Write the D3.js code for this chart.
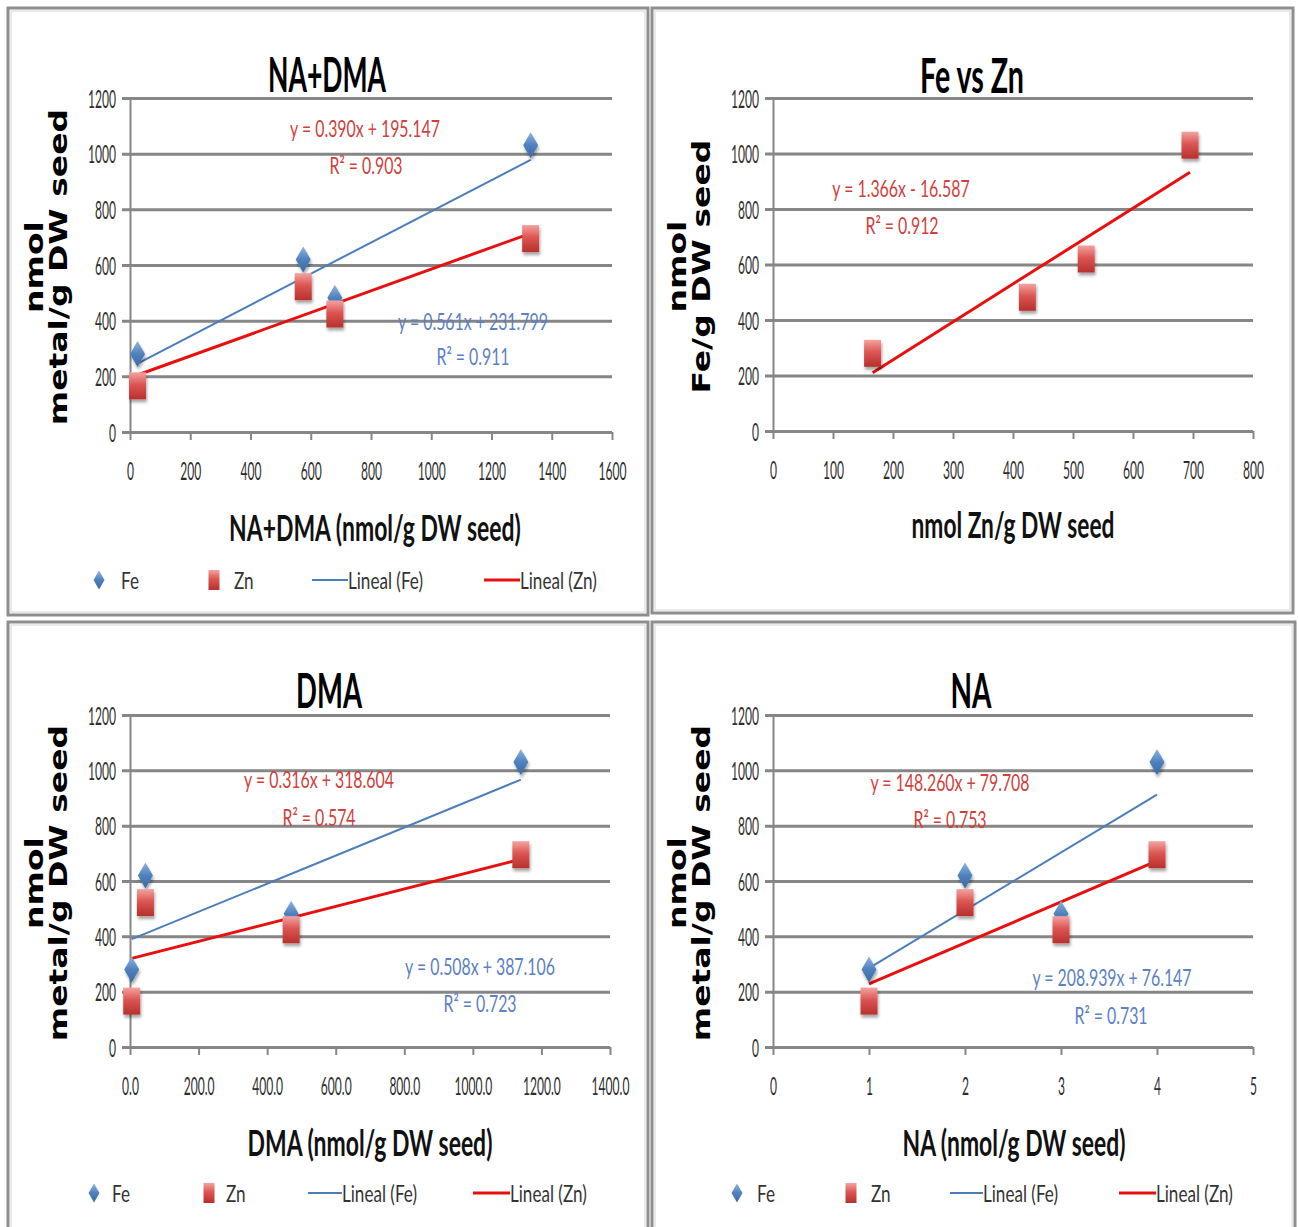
<!DOCTYPE html>
<html><head><meta charset="utf-8">
<script src="https://cdn.jsdelivr.net/npm/d3@7"></script>
<style>html,body{margin:0;padding:0;background:#fff;} svg{display:block}</style>
</head><body>
<svg id="chart" width="1299" height="1227"></svg>
<script>
// ---------------- data ----------------
const feValues = [280, 620, 482, 1030];     // nmol Fe/g DW seed
const znValues = [166, 522, 424, 695];      // nmol Zn/g DW seed
const naDmaValues = [25, 575, 680, 1330];   // NA+DMA
const dmaValues = [5, 45, 470, 1140];       // DMA
const naValues = [1, 2, 3, 4];              // NA

const yTicks = [0, 200, 400, 600, 800, 1000, 1200];
const naDmaTicks = [0, 200, 400, 600, 800, 1000, 1200, 1400, 1600];
const znTicks = [0, 100, 200, 300, 400, 500, 600, 700, 800];
const dmaTicks = [0, 200, 400, 600, 800, 1000, 1200, 1400];
const naTicks = [0, 1, 2, 3, 4, 5];

// trendlines: [slope, intercept], R²
const naDmaFeFit = [0.561, 231.799], naDmaFeR2 = 0.911;
const naDmaZnFit = [0.390, 195.147], naDmaZnR2 = 0.903;
const feZnFit = [1.366, -16.587], feZnR2 = 0.912;
const dmaFeFit = [0.508, 387.106], dmaFeR2 = 0.723;
const dmaZnFit = [0.316, 318.604], dmaZnR2 = 0.574;
const naFeFit = [208.939, 76.147], naFeR2 = 0.731;
const naZnFit = [148.260, 79.708], naZnR2 = 0.753;

const titles = ["NA+DMA", "Fe vs Zn", "DMA", "NA"];
const xTitles = ["NA+DMA (nmol/g DW seed)", "nmol Zn/g DW seed", "DMA (nmol/g DW seed)", "NA (nmol/g DW seed)"];
const yTitlesMetal = ["nmol", "metal/g DW seed"];
const yTitlesFe = ["nmol", "Fe/g DW seed"];
const legendLabels = ["Fe", "Zn", "Lineal (Fe)", "Lineal (Zn)"];

// ---------------- style ----------------
const FONT = "Lato, 'Open Sans', sans-serif";
const YFONT = "'DejaVu Sans', Verdana, sans-serif";
const GRID = "#868686";
const BLUE = "#4a7ebb", RED = "#e8100e";
const EQ_RED = "#d0403c", EQ_BLUE = "#5b80c4";

const svg = d3.select("#chart");
const defs = svg.append("defs");
const f = defs.append("filter").attr("id", "shadow").attr("x", "-60%").attr("y", "-60%").attr("width", "220%").attr("height", "220%");
f.append("feGaussianBlur").attr("in", "SourceAlpha").attr("stdDeviation", 1.8);
f.append("feOffset").attr("dx", 1).attr("dy", 3).attr("result", "ob");
f.append("feComponentTransfer").append("feFuncA").attr("type", "linear").attr("slope", 0.35);
const fm = f.append("feMerge"); fm.append("feMergeNode"); fm.append("feMergeNode").attr("in", "SourceGraphic");

const gFe = defs.append("linearGradient").attr("id", "gFe").attr("x1", 0).attr("y1", 0).attr("x2", 0).attr("y2", 1);
gFe.append("stop").attr("offset", "0%").attr("stop-color", "#8fb4e3");
gFe.append("stop").attr("offset", "50%").attr("stop-color", "#4f81bd");
gFe.append("stop").attr("offset", "100%").attr("stop-color", "#3a6aa5");
const gZn = defs.append("linearGradient").attr("id", "gZn").attr("x1", 0).attr("y1", 0).attr("x2", 0).attr("y2", 1);
gZn.append("stop").attr("offset", "0%").attr("stop-color", "#f3a3a1");
gZn.append("stop").attr("offset", "45%").attr("stop-color", "#dc5653");
gZn.append("stop").attr("offset", "100%").attr("stop-color", "#b8302d");

svg.append("rect").attr("width", 1299).attr("height", 1227).attr("fill", "#fff");

function measure(str, size, weight, family) {
  const t = svg.append("text").text(str).attr("font-family", family || FONT)
    .attr("font-size", size).attr("font-weight", weight || "normal");
  const w = t.node().getComputedTextLength(); t.remove(); return w;
}
const SX_TICK = 28 / measure("1200", 25);
const SX_EQ = 150 / measure("y = 0.390x + 195.147", 24);
const SX_LEG = 75 / measure("Lineal (Fe)", 24);

function label(parent, str, x, y, o) {
  const t = parent.append("text").text(str)
    .attr("font-family", o.family || FONT).attr("font-size", o.size)
    .attr("font-weight", o.weight || "normal").attr("fill", o.fill || "#1a1a1a")
    .attr("text-anchor", o.anchor || "middle");
  let sx = o.sx || 1;
  if (o.width) sx = o.width / t.node().getComputedTextLength();
  t.attr("transform", `translate(${x},${y}) scale(${sx},1)`);
  return t;
}
function eqText(fit, r2) {
  const b = fit[1];
  return [`y = ${fit[0].toFixed(3)}x ${b < 0 ? "-" : "+"} ${Math.abs(b).toFixed(3)}`, `R² = ${r2.toFixed(3)}`];
}
const diamond = (w, h) => `M0,${-h/2}L${w/2},0L0,${h/2}L${-w/2},0Z`;

function drawPanel(c) {
  const g = svg.append("g");
  g.append("rect").attr("x", c.frame[0]).attr("y", c.frame[1]).attr("width", c.frame[2]).attr("height", c.frame[3])
    .attr("fill", "none").attr("stroke", "#8e8e8e").attr("stroke-width", 3);
  g.append("rect").attr("x", c.frame[0] + 3).attr("y", c.frame[1] + 3).attr("width", c.frame[2] - 6).attr("height", c.frame[3] - 6)
    .attr("fill", "none").attr("stroke", "#d6d6d6").attr("stroke-width", 1);

  const x = d3.scaleLinear().domain(c.xDomain).range([c.left, c.right]);
  const y = d3.scaleLinear().domain([0, 1200]).range([c.bottom, c.top]);

  const gy = g.append("g").attr("transform", `translate(${c.left},0)`)
    .call(d3.axisLeft(y).tickValues(yTicks).tickSize(-(c.right - c.left)).tickSizeOuter(0).tickFormat(d3.format("d")));
  gy.select(".domain").attr("stroke", GRID).attr("stroke-width", 2);
  gy.selectAll(".tick line").attr("x1", -8).attr("stroke", GRID).attr("stroke-width", 3);
  gy.selectAll(".tick text").attr("x", null).attr("dy", null)
    .attr("font-family", FONT).attr("font-size", 25).attr("fill", "#2e2e2e").attr("text-anchor", "end")
    .attr("transform", `translate(-14,9) scale(${SX_TICK},1)`);

  const gx = g.append("g").attr("transform", `translate(0,${c.bottom})`)
    .call(d3.axisBottom(x).tickValues(c.xTicks).tickSize(8).tickSizeOuter(0).tickFormat(c.xFormat));
  gx.select(".domain").remove();
  gx.selectAll(".tick line").attr("stroke", GRID).attr("stroke-width", 2);
  gx.selectAll(".tick text").attr("y", null).attr("dy", null)
    .attr("font-family", FONT).attr("font-size", 25).attr("fill", "#2e2e2e")
    .attr("transform", `translate(0,48) scale(${SX_TICK},1)`);

  label(g, c.title, c.titlePos[0], c.titlePos[1], {size: 47, weight: "bold", fill: "#000", width: c.titlePos[2]});
  label(g, c.xTitle, c.xTitlePos[0], c.xTitlePos[1], {size: 37, weight: "bold", fill: "#111", width: c.xTitlePos[2]});
  const yc = (c.top + c.bottom) / 2;
  c.yTitle.forEach((s, i) => {
    g.append("text").text(s).attr("font-family", YFONT).attr("font-size", 33).attr("font-weight", "bold")
      .attr("fill", "#000").attr("text-anchor", "middle")
      .attr("transform", `translate(${c.left + (i === 0 ? -87 : -63)},${yc + 2}) rotate(-90) scale(1,0.74)`);
  });

  const line = d3.line().x(d => x(d[0])).y(d => y(d[1]));
  c.series.forEach(s => {
    const ext = d3.extent(s.xs);
    g.append("path").attr("d", line(ext.map(v => [v, s.fit[0] * v + s.fit[1]])))
      .attr("fill", "none").attr("stroke", s.lineColor).attr("stroke-width", s.lineWidth);
  });
  c.series.forEach(s => {
    const pts = s.xs.map((v, i) => [v, s.ys[i]]);
    if (s.kind === "fe") {
      g.selectAll(null).data(pts).join("path").attr("d", diamond(15, 26))
        .attr("transform", d => `translate(${x(d[0])},${y(d[1])})`)
        .attr("fill", "url(#gFe)").attr("filter", "url(#shadow)");
    } else {
      g.selectAll(null).data(pts).join("rect").attr("x", d => x(d[0]) - 8.5).attr("y", d => y(d[1]) - 13.5)
        .attr("width", 17).attr("height", 27).attr("fill", "url(#gZn)").attr("filter", "url(#shadow)");
    }
  });
  c.series.forEach(s => {
    const [l1, l2] = eqText(s.fit, s.r2);
    label(g, l1, s.eq[0], s.eq[1], {size: 24, fill: s.eqColor, sx: SX_EQ});
    label(g, l2, s.eq[2], s.eq[3], {size: 24, fill: s.eqColor, sx: SX_EQ});
  });
  if (c.legend) {
    const L = c.legend, ly = L.y;
    g.append("path").attr("d", diamond(11, 19)).attr("transform", `translate(${L.fe},${ly})`).attr("fill", "url(#gFe)");
    label(g, legendLabels[0], L.feText, ly + 9, {size: 24, fill: "#333", anchor: "start", sx: SX_LEG});
    g.append("rect").attr("x", L.zn - 5.5).attr("y", ly - 10).attr("width", 11).attr("height", 20).attr("fill", "url(#gZn)");
    label(g, legendLabels[1], L.znText, ly + 9, {size: 24, fill: "#333", anchor: "start", sx: SX_LEG});
    g.append("line").attr("x1", L.blue[0]).attr("x2", L.blue[1]).attr("y1", ly).attr("y2", ly).attr("stroke", BLUE).attr("stroke-width", 2);
    label(g, legendLabels[2], L.blue[1], ly + 9, {size: 24, fill: "#333", anchor: "start", sx: SX_LEG});
    g.append("line").attr("x1", L.red[0]).attr("x2", L.red[1]).attr("y1", ly).attr("y2", ly).attr("stroke", RED).attr("stroke-width", 3);
    label(g, legendLabels[3], L.red[1], ly + 9, {size: 24, fill: "#333", anchor: "start", sx: SX_LEG});
  }
}

const fmtInt = d3.format("d"), fmt1 = d3.format(".1f");
const feSeries = (xs, fit, r2, eq) => ({kind: "fe", xs, ys: feValues, fit, r2, eq, lineColor: BLUE, lineWidth: 2, eqColor: EQ_BLUE});
const znSeries = (xs, fit, r2, eq) => ({kind: "zn", xs, ys: znValues, fit, r2, eq, lineColor: RED, lineWidth: 3, eqColor: EQ_RED});

drawPanel({
  frame: [8, 8, 640, 607], left: 130, right: 612, top: 98, bottom: 432,
  xDomain: [0, 1600], xTicks: naDmaTicks, xFormat: fmtInt,
  title: titles[0], titlePos: [327, 92, 118], xTitle: xTitles[0], xTitlePos: [375, 541, 292], yTitle: yTitlesMetal,
  series: [feSeries(naDmaValues, naDmaFeFit, naDmaFeR2, [473, 330, 473, 365]),
           znSeries(naDmaValues, naDmaZnFit, naDmaZnR2, [365, 137, 366, 174])],
  legend: {y: 580, fe: 99, feText: 121, zn: 214, znText: 234, blue: [312, 348], red: [484, 520]}
});
drawPanel({
  frame: [652, 8, 641, 605], left: 773, right: 1253, top: 98, bottom: 431,
  xDomain: [0, 800], xTicks: znTicks, xFormat: fmtInt,
  title: titles[1], titlePos: [972, 93, 104], xTitle: xTitles[1], xTitlePos: [1013, 538, 203], yTitle: yTitlesFe,
  series: [{kind: "zn", xs: znValues, ys: feValues, fit: feZnFit, r2: feZnR2, eq: [901, 197, 902, 234],
            lineColor: RED, lineWidth: 3, eqColor: EQ_RED}],
  legend: null
});
drawPanel({
  frame: [8, 622, 640, 620], left: 130, right: 610, top: 715, bottom: 1047,
  xDomain: [0, 1400], xTicks: dmaTicks, xFormat: fmt1,
  title: titles[2], titlePos: [329, 708, 66], xTitle: xTitles[2], xTitlePos: [370, 1156, 245], yTitle: yTitlesMetal,
  series: [feSeries(dmaValues, dmaFeFit, dmaFeR2, [480, 975, 480, 1012]),
           znSeries(dmaValues, dmaZnFit, dmaZnR2, [319, 788, 319, 826])],
  legend: {y: 1193, fe: 94, feText: 112, zn: 209, znText: 226, blue: [308, 342], red: [473, 510]}
});
drawPanel({
  frame: [652, 622, 643, 620], left: 773, right: 1253, top: 715, bottom: 1047,
  xDomain: [0, 5], xTicks: naTicks, xFormat: fmtInt,
  title: titles[3], titlePos: [971, 708, 41], xTitle: xTitles[3], xTitlePos: [1014, 1156, 223], yTitle: yTitlesMetal,
  series: [feSeries(naValues, naFeFit, naFeR2, [1112, 986, 1111, 1024]),
           znSeries(naValues, naZnFit, naZnR2, [950, 791, 950, 828])],
  legend: {y: 1193, fe: 737, feText: 757, zn: 851, znText: 871, blue: [950, 983], red: [1119, 1156]}
});
</script>
</body></html>
